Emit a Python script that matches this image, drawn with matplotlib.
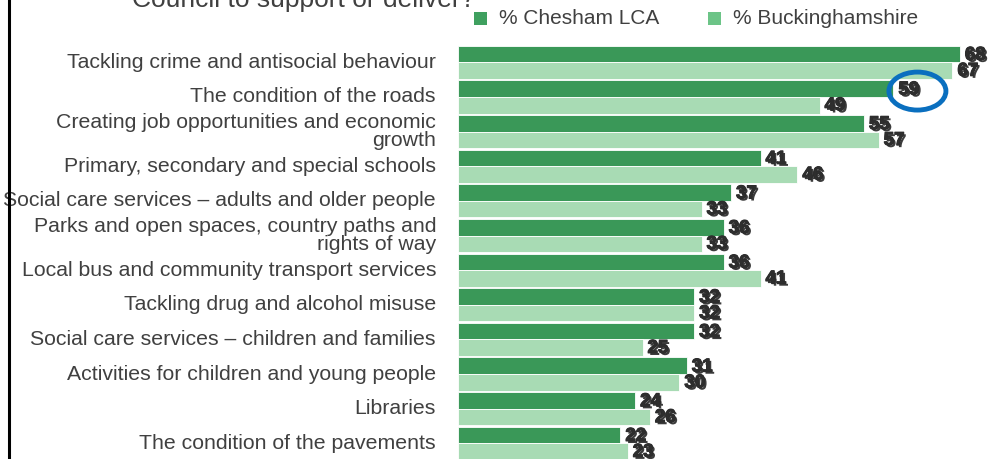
import matplotlib
matplotlib.use("Agg")
import matplotlib.pyplot as plt
import matplotlib.patheffects as pe
from matplotlib.patches import Ellipse, Rectangle
from matplotlib.lines import Line2D

plt.rcParams['font.family'] = ['Liberation Sans', 'DejaVu Sans']

categories = [
    "Tackling crime and antisocial behaviour",
    "The condition of the roads",
    "Creating job opportunities and economic\ngrowth",
    "Primary, secondary and special schools",
    "Social care services \u2013 adults and older people",
    "Parks and open spaces, country paths and\nrights of way",
    "Local bus and community transport services",
    "Tackling drug and alcohol misuse",
    "Social care services \u2013 children and families",
    "Activities for children and young people",
    "Libraries",
    "The condition of the pavements",
]
chesham = [68, 59, 55, 41, 37, 36, 36, 32, 32, 31, 24, 22]
bucks = [67, 49, 57, 46, 33, 33, 41, 32, 25, 30, 26, 23]
series_names = ["% Chesham LCA", "% Buckinghamshire"]
title = "Council to support or deliver?"
highlight_index = 1

W, H = 991, 459
fig = plt.figure(figsize=(W / 100, H / 100), dpi=100)
fig.patch.set_facecolor("white")

ax_left = 458 / W
ax = fig.add_axes([ax_left, 0, 1 - ax_left, 1])
px_per_unit = 7.38
ax.set_xlim(0, (W - 458) / px_per_unit)
pitch = 34.64
top_center = 62.3
ax.set_ylim(11 + (H - (top_center + 11 * pitch)) / pitch, -top_center / pitch)
ax.axis("off")

dark = "#3a9858"
light = "#a8dbb4"
bh = 0.479
y = list(range(len(categories)))
ax.barh([i - bh / 2 for i in y], chesham, height=bh, color=dark,
        edgecolor="white", linewidth=0.6)
ax.barh([i + bh / 2 for i in y], bucks, height=bh, color=light,
        edgecolor="white", linewidth=0.6)

off = 5 / px_per_unit
val_effects = [pe.withSimplePatchShadow(offset=(1.5, -1.5), shadow_rgbFace="#1a1a1a", alpha=0.85),
               pe.Stroke(linewidth=0.8, foreground="#2b2b2b"), pe.Normal()]
for i in y:
    t1 = ax.text(chesham[i] + off, i - bh / 2 + 0.04, str(chesham[i]), ha="left", va="center",
                 fontsize=13.5, fontweight="bold", color="#2e2e2e")
    t2 = ax.text(bucks[i] + off, i + bh / 2 + 0.02, str(bucks[i]), ha="left", va="center",
                 fontsize=13.5, fontweight="bold", color="#2e2e2e")
    for t in (t1, t2):
        t.set_path_effects(val_effects)

# category labels
for i, c in enumerate(categories):
    ax.text(-22 / px_per_unit, i, c, ha="right", va="center", fontsize=15.3,
            color="#404040", linespacing=0.97, clip_on=False)

# highlight ellipse around highlighted value
hv = chesham[highlight_index]
ax.add_patch(Ellipse((hv + 24 / px_per_unit, highlight_index - bh / 2 + 0.07),
                     width=57 / px_per_unit, height=38 / pitch, fill=False,
                     edgecolor="#0a6fbf", linewidth=3.5, clip_on=False))

# legend
for x0, col, name in [(474, "#3fa05f", series_names[0]), (708, "#6cc487", series_names[1])]:
    fig.add_artist(Rectangle((x0 / W, 1 - 25 / H), 13 / W, 13 / H, transform=fig.transFigure,
                             facecolor=col, edgecolor="none"))
    fig.text((x0 + 25) / W, 1 - 18 / H, name, ha="left", va="center", fontsize=15, color="#404040")

# title (partly cut off at top)
fig.text(132 / W, 1 - 6.5 / H, title, ha="left", va="baseline", fontsize=19, color="#404040")

# left border line
fig.add_artist(Line2D([9 / W, 9 / W], [0, 1], transform=fig.transFigure, color="black", linewidth=2.2))

fig.savefig("out.png", dpi=100)
